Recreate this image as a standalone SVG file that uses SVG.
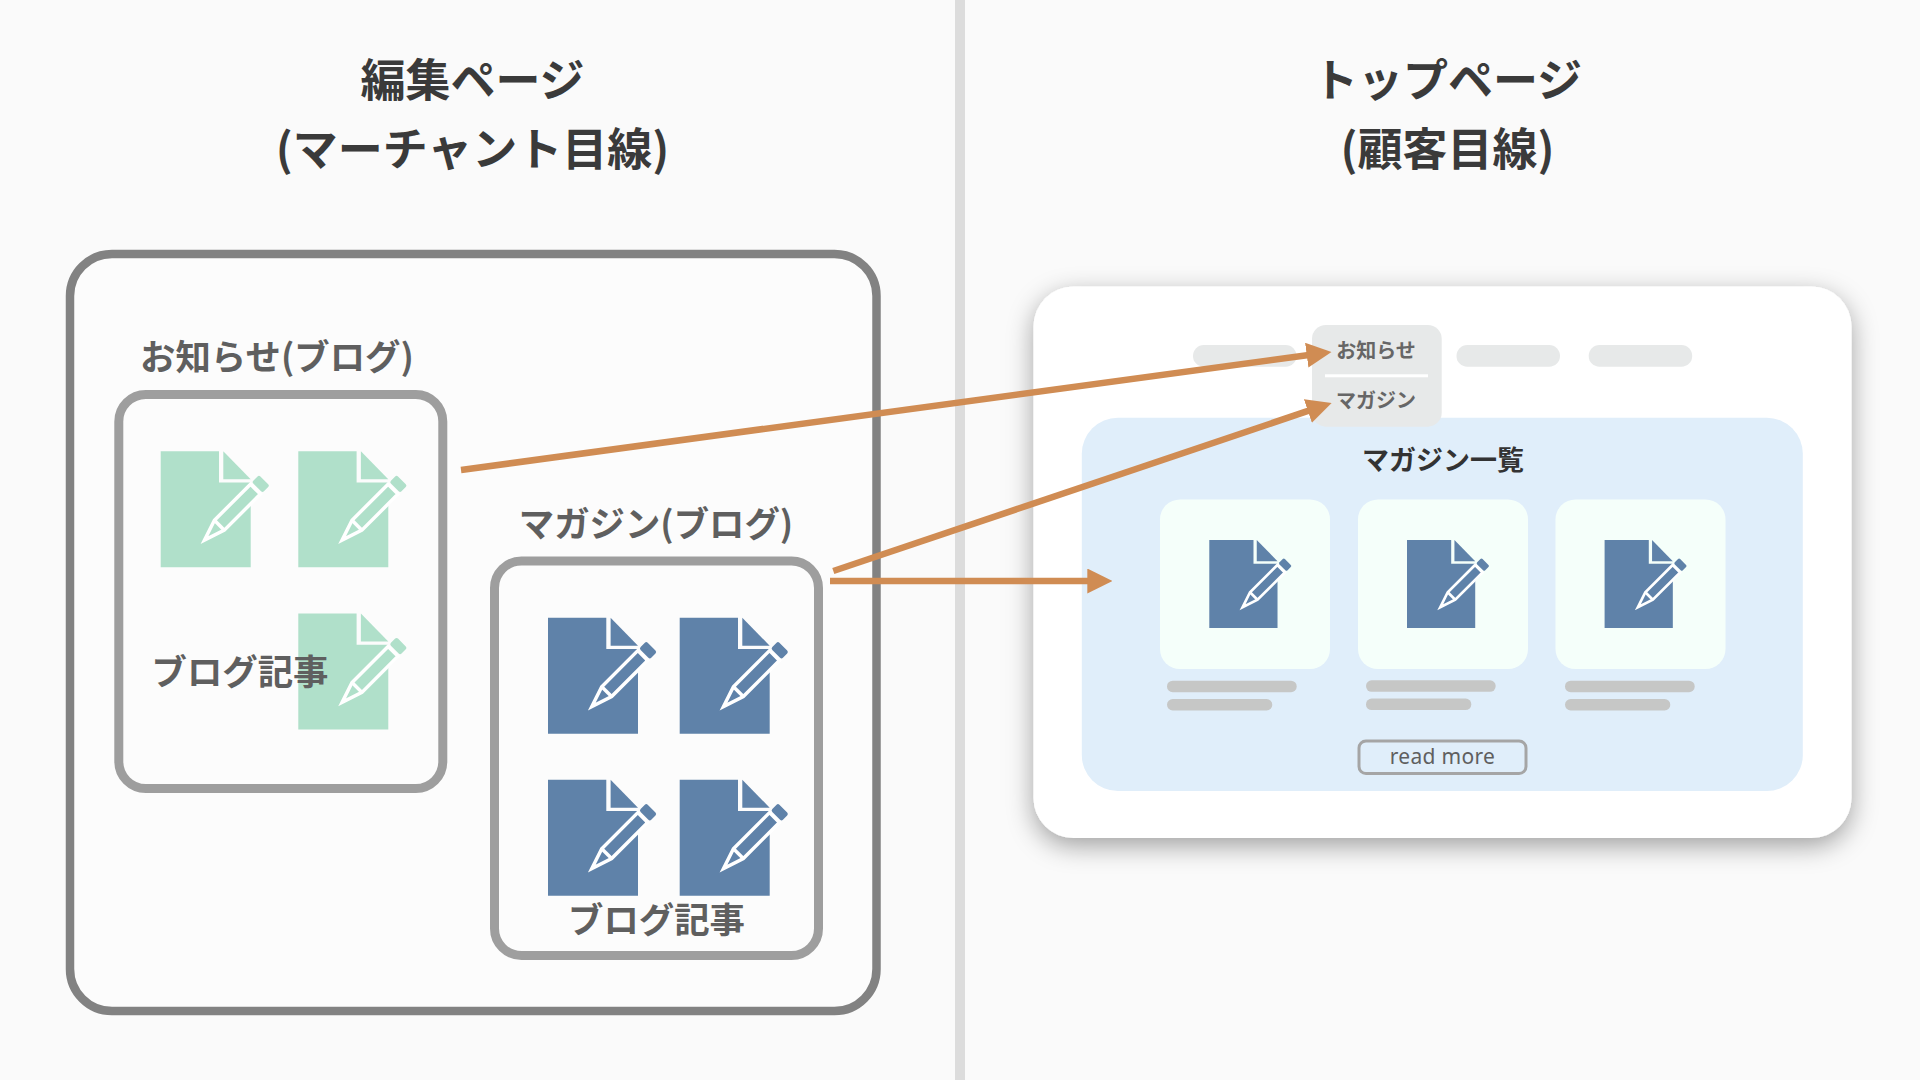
<svg xmlns="http://www.w3.org/2000/svg" width="1920" height="1080" viewBox="0 0 1920 1080">
<style>
text{font-family:"Noto Sans CJK JP","Noto Sans",sans-serif;font-weight:700;text-anchor:middle}
.title{font-size:45px;fill:#3a3a3a}
.label{font-size:35.4px;fill:#5f5f5f}
.nav{font-size:20px;fill:#666}
.box{fill:#fcfcfc}
.pill{fill:#e7e9e9}
.card{fill:#f5fffa}
.line{fill:#c6c7c6}
.arrow{stroke:#d08c53;stroke-width:6.5;fill:none;marker-end:url(#head)}
.green{fill:#b0e0ca}
.blue{fill:#5f82a9}
.ink{stroke:#fff;stroke-width:3.5;stroke-linejoin:miter}
</style>
<defs>
<marker id="head" markerUnits="userSpaceOnUse" markerWidth="25" markerHeight="25" refX="4" refY="12.5" orient="auto"><polygon points="0,0 25,12.5 0,25" fill="#d08c53"/></marker>
<filter id="shadow" x="-10%" y="-10%" width="120%" height="125%"><feDropShadow dx="0" dy="8" stdDeviation="13" flood-color="#000" flood-opacity="0.36"/></filter>
<g id="doc">
<path d="M0 0H58.3V31.3H90V116H0Z"/>
<path d="M62.6 0L90 28H62.6Z"/>
<g transform="translate(40.3 92.3) rotate(-45)">
<path class="ink" d="M5 0L26 -7H77V7H26Z"/>
<path class="ink" d="M26 -7V7" fill="none"/>
<rect x="79.5" y="-7.5" width="10" height="15" rx="2"/>
</g>
</g>
</defs>
<rect width="1920" height="1080" fill="#fafafa"/>
<rect x="955" y="0" width="10" height="1080" fill="#dcdcdc"/>
<g id="title-left">
<text class="title" x="472.5" y="96.5">編集ページ</text>
<text class="title" x="472.5" y="165.5">(マーチャント目線)</text>
</g>
<g id="title-right">
<text class="title" x="1447.5" y="96.5">トップページ</text>
<text class="title" x="1447.5" y="165.5">(顧客目線)</text>
</g>
<g id="editor">
<rect class="box" x="70" y="254" width="806.5" height="757" rx="42" stroke="#828282" stroke-width="8.5"/>
</g>
<g id="news">
<text class="label" x="277" y="370">お知らせ(ブログ)</text>
<rect class="box" x="118.8" y="394.5" width="324" height="394" rx="27" stroke="#9e9e9e" stroke-width="9"/>
<use href="#doc" class="green" x="160.7" y="451.3"/>
<use href="#doc" class="green" x="298.3" y="451.3"/>
<use href="#doc" class="green" x="298.3" y="613.5"/>
<text class="label" x="240" y="685">ブログ記事</text>
</g>
<g id="magazine">
<text class="label" x="656" y="537">マガジン(ブログ)</text>
<rect class="box" x="494.5" y="561" width="324" height="394.5" rx="27" stroke="#9e9e9e" stroke-width="9"/>
<use href="#doc" class="blue" x="548" y="617.7"/>
<use href="#doc" class="blue" x="679.7" y="617.7"/>
<use href="#doc" class="blue" x="548" y="779.7"/>
<use href="#doc" class="blue" x="679.7" y="779.7"/>
<text class="label" x="656.5" y="933">ブログ記事</text>
</g>
<g id="top-page">
<rect x="1033.5" y="286.5" width="818" height="551.5" rx="40" fill="#fff" filter="url(#shadow)"/>
<rect class="pill" x="1193" y="345" width="103.5" height="21.7" rx="10.8"/>
<rect class="pill" x="1456.5" y="345" width="103.5" height="21.7" rx="10.8"/>
<rect class="pill" x="1588.7" y="345" width="103.5" height="21.7" rx="10.8"/>
</g>
<g id="magazine-list">
<rect x="1081.8" y="417.7" width="721" height="373.3" rx="36" fill="#e0eefa"/>
<text x="1443" y="469.5" font-size="27" fill="#333">マガジン一覧</text>
<rect class="card" x="1160" y="499.5" width="170" height="169.5" rx="20"/>
<rect class="card" x="1358" y="499.5" width="170" height="169.5" rx="20"/>
<rect class="card" x="1555.5" y="499.5" width="170" height="169.5" rx="20"/>
<use href="#doc" class="blue" transform="translate(1209.3 540) scale(.758)"/>
<use href="#doc" class="blue" transform="translate(1407 540) scale(.758)"/>
<use href="#doc" class="blue" transform="translate(1604.6 540) scale(.758)"/>
<rect class="line" x="1167" y="680.7" width="129.7" height="11.5" rx="5.7"/>
<rect class="line" x="1167" y="699" width="105.3" height="11.5" rx="5.7"/>
<rect class="line" x="1366" y="680.3" width="129.7" height="11.5" rx="5.7"/>
<rect class="line" x="1366" y="698.6" width="105.3" height="11.5" rx="5.7"/>
<rect class="line" x="1565" y="680.7" width="129.7" height="11.5" rx="5.7"/>
<rect class="line" x="1565" y="699" width="105.3" height="11.5" rx="5.7"/>
<rect x="1359" y="741" width="167" height="32.5" rx="7" fill="none" stroke="#a5a5a5" stroke-width="3"/>
<text x="1442.5" y="763.5" font-size="21" letter-spacing="0.3" fill="#5f5f5f" style="font-family:'Noto Sans',sans-serif;font-weight:400">read more</text>
</g>
<g id="nav-menu">
<rect class="pill" x="1312" y="325" width="129.7" height="101.7" rx="14"/>
<rect x="1325" y="374.3" width="103" height="3" fill="#fff"/>
<text class="nav" x="1376" y="358">お知らせ</text>
<text class="nav" x="1376" y="407.5">マガジン</text>
</g>
<g id="connectors">
<path class="arrow" d="M461 470L1310.7 354.7"/>
<path class="arrow" d="M833.3 571L1311.7 409.7"/>
<path class="arrow" d="M830 581H1091.3"/>
</g>
</svg>
